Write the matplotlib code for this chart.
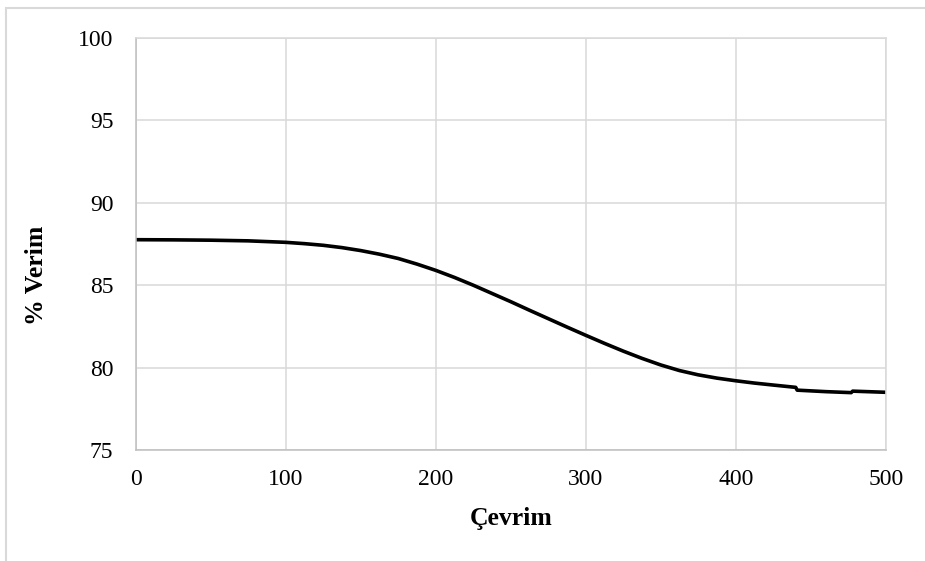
""" Verim vs Cevrim line chart """

import numpy as np
import matplotlib.pyplot as plt
from matplotlib.patches import Rectangle

# Values
cevrim = [0, 25, 50, 75, 100, 112.5, 125, 137.5, 150, 162.5, 175, 187.5,
          200, 212.5, 225, 237.5, 250, 262.5, 275, 287.5, 300, 312.5, 325,
          337.5, 350, 362.5, 375, 387.5, 400, 412.5, 425, 440, 441, 460,
          477, 478, 500]
verim = [87.76, 87.75, 87.73, 87.69, 87.6, 87.52, 87.42, 87.28, 87.1, 86.88,
         86.62, 86.28, 85.9, 85.47, 85.0, 84.5, 84.0, 83.48, 82.97, 82.46,
         81.96, 81.47, 81.0, 80.56, 80.16, 79.82, 79.56, 79.36, 79.2, 79.06,
         78.94, 78.8, 78.63, 78.54, 78.48, 78.57, 78.5]
x_ticks = [0, 100, 200, 300, 400, 500]
y_ticks = [75, 80, 85, 90, 95, 100]

plt.rcParams['font.family'] = ['Liberation Serif', 'DejaVu Serif']

fig = plt.figure(figsize=(9.25, 5.61), dpi=100)
ax = fig.add_axes([0.1467, 0.1979, 0.8108, 0.7344])

# Outer chart border (only top and left visible in the reference)
fig.patches.append(Rectangle((6 / 925, -0.2), 1.5, 1.2 - 8 / 561,
                             transform=fig.transFigure, fill=False,
                             edgecolor='#d9d9d9', linewidth=1.5))

ax.plot(cevrim, verim, color='black', linewidth=2.6, solid_capstyle='butt')

ax.set_xlim(0, 500)
ax.set_ylim(75, 100)
ax.set_xticks(x_ticks)
ax.set_yticks(y_ticks)
ax.tick_params(axis='both', length=0, labelsize=17)
ax.tick_params(axis='x', pad=14)
ax.tick_params(axis='y', pad=16)

ax.grid(True, color='#d9d9d9', linewidth=1.1)
ax.set_axisbelow(True)
for side in ['left', 'bottom']:
    ax.spines[side].set_color('#bfbfbf')
    ax.spines[side].set_linewidth(1.1)
for side in ['top', 'right']:
    ax.spines[side].set_color('#d9d9d9')
    ax.spines[side].set_linewidth(1.1)

ax.set_xlabel('Çevrim', fontsize=18.5, fontweight='bold', labelpad=12)
ax.set_ylabel('% Verim', fontsize=18.5, fontweight='bold', va='center')
ax.yaxis.set_label_coords(-0.1316, 0.425)

fig.savefig('out.png', dpi=100)
